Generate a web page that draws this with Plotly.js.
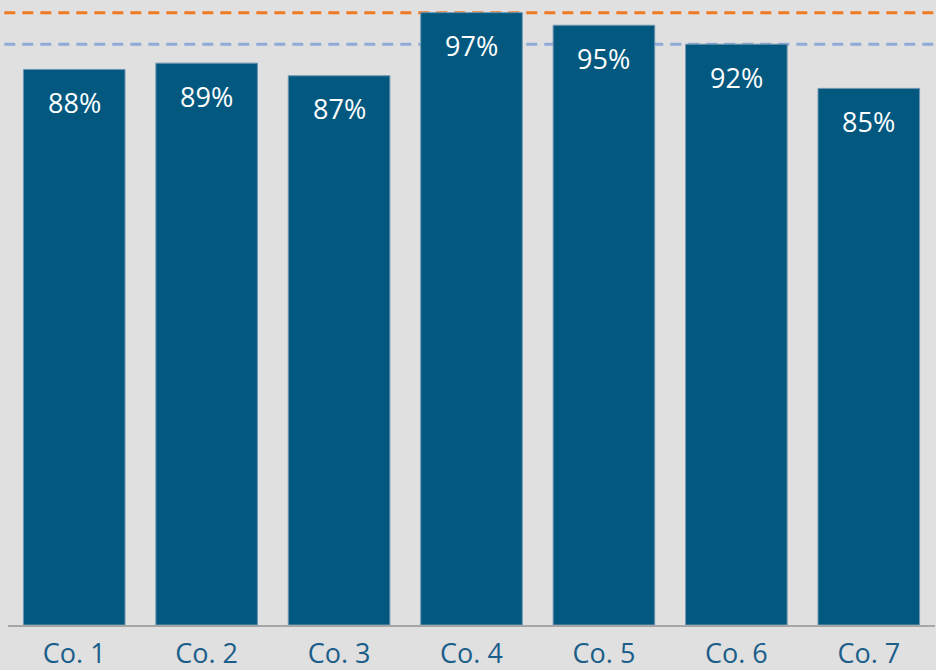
<!DOCTYPE html>
<html>
<head>
<meta charset="utf-8">
<script src="https://cdn.plot.ly/plotly-3.0.1.min.js"></script>
<style>
html,body{margin:0;padding:0;background:#e0e0e0;}
#chart{width:936px;height:670px;}
</style>
</head>
<body>
<div id="chart"></div>
<script>
const categories = ["Co. 1", "Co. 2", "Co. 3", "Co. 4", "Co. 5", "Co. 6", "Co. 7"];
const values = [88, 89, 87, 97, 95, 92, 85];
const labels = ["88%", "89%", "87%", "97%", "95%", "92%", "85%"];
const upperTarget = 97;
const lowerTarget = 92;

const FONT = "Open Sans, Noto Sans, sans-serif";

const trace = {
  type: "bar",
  x: categories,
  y: values,
  marker: { color: "#02587f", line: { color: "#6f96b2", width: 1 } },
  hoverinfo: "none"
};

const annotations = categories.map((c, i) => ({
  x: c, y: values[i], xref: "x", yref: "y",
  text: labels[i], showarrow: false, yshift: -33,
  font: { family: FONT, size: 27, color: "#ffffff" }
}));

const shapes = [
  { type: "line", xref: "paper", yref: "y", x0: -0.004, x1: 1.01, y0: upperTarget, y1: upperTarget,
    layer: "below", line: { color: "#ee7a22", width: 3, dash: "11px,7px" } },
  { type: "line", xref: "paper", yref: "y", x0: -0.004, x1: 1.01, y0: lowerTarget, y1: lowerTarget,
    layer: "below", line: { color: "#8eaad6", width: 3, dash: "11px,7px" } }
];

const layout = {
  width: 936, height: 670,
  margin: { l: 8, r: 1, t: 0, b: 45 },
  paper_bgcolor: "#e0e0e0",
  plot_bgcolor: "#e0e0e0",
  bargap: 0.233,
  showlegend: false,
  xaxis: {
    showgrid: false, zeroline: false,
    showline: true, linecolor: "#a6a6a6", linewidth: 2,
    ticks: "",
    ticklabelstandoff: 4,
    tickfont: { family: FONT, size: 27, color: "#1b5e8a" },
    fixedrange: true
  },
  yaxis: {
    range: [0, 99], showgrid: false, zeroline: false, showticklabels: false,
    showline: false, ticks: "", fixedrange: true
  },
  annotations: annotations,
  shapes: shapes
};

Plotly.newPlot("chart", [trace], layout, { displayModeBar: false, staticPlot: true });
</script>
</body>
</html>
